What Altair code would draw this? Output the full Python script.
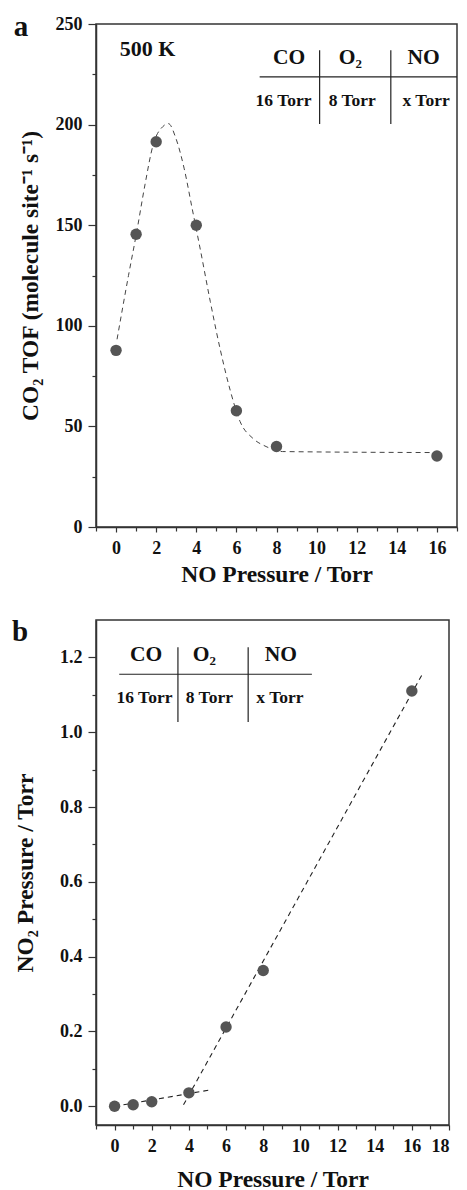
import altair as alt
import pandas as pd

# ---------------- data ----------------
# panel a: CO2 TOF vs NO pressure
a_no = [0, 1, 2, 4, 6, 8, 16]
a_tof = [87.8, 145.5, 191.5, 150.0, 57.8, 40.0, 35.3]
# dashed guide curve
a_curve_x = [0.05, 0.62, 1.0, 1.44, 1.85, 2.33, 2.61, 2.99, 3.4, 3.8, 4.2, 4.7,
             5.2, 5.69, 6.18, 6.83, 7.48, 8.3, 16.0]
a_curve_y = [93.3, 125, 145, 170, 190, 199, 200.5, 193, 178, 158, 138, 112,
             88, 68, 52.5, 44, 40, 37.5, 37.0]

# panel b: NO2 pressure vs NO pressure
b_no = [0, 1, 2, 4, 6, 8, 16]
b_no2 = [0.0, 0.004, 0.012, 0.036, 0.212, 0.363, 1.110]
# two dashed linear guides (end points)
b_line_id = ["low", "low", "high", "high"]
b_line_x = [0.0, 5.13, 3.71, 16.54]
b_line_y = [0.0, 0.0435, 0.004, 1.153]

# table texts
tbl_head = ["CO", "O\u2082", "NO"]
tbl_row = ["16 Torr", "8 Torr", "x Torr"]

FONT = "Liberation Serif"
DARK = "#333333"
PT = "#555555"
INK = "#111111"

a_xticks = list(range(-1, 18))
a_yticks = list(range(0, 251, 25))
b_xticks = list(range(-1, 19))
b_yticks = [round(v * 0.1, 1) for v in range(0, 13)]


def x_axis(ticks, title, tpad):
    return alt.Axis(values=ticks, title=title,
                    labelExpr="datum.value % 2 == 0 && datum.value >= 0 ? datum.label : ''",
                    tickSize={"condition": {"test": "datum.value % 2 != 0", "value": 4}, "value": 5},
                    grid=False, labelPadding=7, titlePadding=tpad)


# ---------------- panel a ----------------
ax = alt.X("x:Q", scale=alt.Scale(domain=[-1, 17], nice=False, zero=False),
           axis=x_axis(a_xticks, "NO Pressure / Torr", 5))
ay = alt.Y("y:Q", scale=alt.Scale(domain=[0, 250], nice=False),
           axis=alt.Axis(values=a_yticks, title="CO\u2082 TOF (molecule site\u207b\u00b9 s\u207b\u00b9)",
                         labelExpr="datum.value % 50 == 0 ? datum.label : ''",
                         tickSize={"condition": {"test": "datum.value % 50 != 0", "value": 4}, "value": 8},
                         grid=False, labelPadding=6, titlePadding=13))

a_pts = pd.DataFrame({"x": a_no, "y": a_tof})
a_crv = pd.DataFrame({"x": a_curve_x, "y": a_curve_y})

a_head = pd.DataFrame({"x": [8.63, 11.68, 15.34], "y": [233, 233, 233], "t": tbl_head})
a_row = pd.DataFrame({"x": [8.35, 11.78, 15.46], "y": [211.7] * 3, "t": tbl_row})
a_temp = pd.DataFrame({"x": [1.57], "y": [237.5], "t": ["500 K"]})
a_rules = pd.DataFrame({"x": [7.16, 10.15, 13.7], "x2": [17.0, 10.15, 13.7],
                        "y": [223.7, 237.0, 237.0], "y2": [223.7, 200.3, 200.3]})

curve_a = alt.Chart(a_crv).mark_line(interpolate="monotone", color="#444444", strokeWidth=1,
                                     strokeDash=[5, 4]).encode(x=ax, y=ay)
points_a = alt.Chart(a_pts).mark_circle(size=130, color=PT, opacity=1).encode(x=ax, y=ay)
rules_a = alt.Chart(a_rules).mark_rule(color="#222222", strokeWidth=1.2).encode(
    x=ax, y=ay, x2="x2:Q", y2="y2:Q")
head_a = alt.Chart(a_head).mark_text(font=FONT, fontWeight="bold", fontSize=21.5, color=INK,
                                     baseline="middle").encode(x=ax, y=ay, text="t:N")
row_a = alt.Chart(a_row).mark_text(font=FONT, fontWeight="bold", fontSize=17.5, color=INK,
                                   baseline="middle").encode(x=ax, y=ay, text="t:N")
temp_a = alt.Chart(a_temp).mark_text(font=FONT, fontWeight="bold", fontSize=22, color=INK,
                                     baseline="middle").encode(x=ax, y=ay, text="t:N")
lab_a = alt.Chart(pd.DataFrame({"t": ["a"]})).mark_text(
    font=FONT, fontWeight="bold", fontSize=29, color=INK, baseline="middle").encode(
    x=alt.value(-75), y=alt.value(3), text="t:N")

top = alt.layer(curve_a, points_a, rules_a, head_a, row_a, temp_a, lab_a).properties(
    width=361, height=503)

# ---------------- panel b ----------------
bx = alt.X("x:Q", scale=alt.Scale(domain=[-1, 18], nice=False, zero=False),
           axis=x_axis(b_xticks, "NO Pressure / Torr", 12))
by = alt.Y("y:Q", scale=alt.Scale(domain=[-0.05, 1.3], nice=False, zero=False),
           axis=alt.Axis(values=b_yticks, title="NO\u2082 Pressure / Torr", format=".1f",
                         labelExpr="round(datum.value * 10) % 2 == 0 ? datum.label : ''",
                         tickSize={"condition": {"test": "round(datum.value * 10) % 2 != 0", "value": 4},
                                   "value": 8},
                         grid=False, labelPadding=6, titlePadding=22))

b_pts = pd.DataFrame({"x": b_no, "y": b_no2})
b_lin = pd.DataFrame({"x": b_line_x, "y": b_line_y, "id": b_line_id})
b_head = pd.DataFrame({"x": [1.70, 4.83, 8.95], "y": [1.206] * 3, "t": tbl_head})
b_row = pd.DataFrame({"x": [1.61, 5.1, 8.9], "y": [1.091] * 3, "t": tbl_row})
b_rules = pd.DataFrame({"x": [0.25, 3.41, 7.19], "x2": [10.62, 3.41, 7.19],
                        "y": [1.155, 1.227, 1.227], "y2": [1.155, 1.027, 1.027]})

lines_b = alt.Chart(b_lin).mark_line(color="#222222", strokeWidth=1.1, strokeDash=[5, 4]).encode(
    x=bx, y=by, detail="id:N")
points_b = alt.Chart(b_pts).mark_circle(size=130, color=PT, opacity=1).encode(x=bx, y=by)
rules_b = alt.Chart(b_rules).mark_rule(color="#222222", strokeWidth=1.2).encode(
    x=bx, y=by, x2="x2:Q", y2="y2:Q")
head_b = alt.Chart(b_head).mark_text(font=FONT, fontWeight="bold", fontSize=21.5, color=INK,
                                     baseline="middle").encode(x=bx, y=by, text="t:N")
row_b = alt.Chart(b_row).mark_text(font=FONT, fontWeight="bold", fontSize=17.5, color=INK,
                                   baseline="middle").encode(x=bx, y=by, text="t:N")
lab_b = alt.Chart(pd.DataFrame({"t": ["b"]})).mark_text(
    font=FONT, fontWeight="bold", fontSize=29, color=INK, baseline="middle").encode(
    x=alt.value(-76), y=alt.value(12), text="t:N")

bottom = alt.layer(lines_b, points_b, rules_b, head_b, row_b, lab_b).properties(
    width=353, height=505)

chart = alt.vconcat(top, bottom, spacing=30).properties(
    padding={"left": 3, "top": 4, "right": 0, "bottom": 0}, background="white"
).configure_view(stroke=DARK, strokeWidth=1.5).configure_axis(
    labelFont=FONT, labelFontWeight="bold", labelFontSize=18, labelColor=INK,
    titleFont=FONT, titleFontWeight="bold", titleFontSize=23.5, titleColor=INK,
    domainColor=DARK, domainWidth=1.5, tickColor=DARK, tickWidth=1.2
)

chart.save("out.html", embed_options={"renderer": "svg", "actions": False})
